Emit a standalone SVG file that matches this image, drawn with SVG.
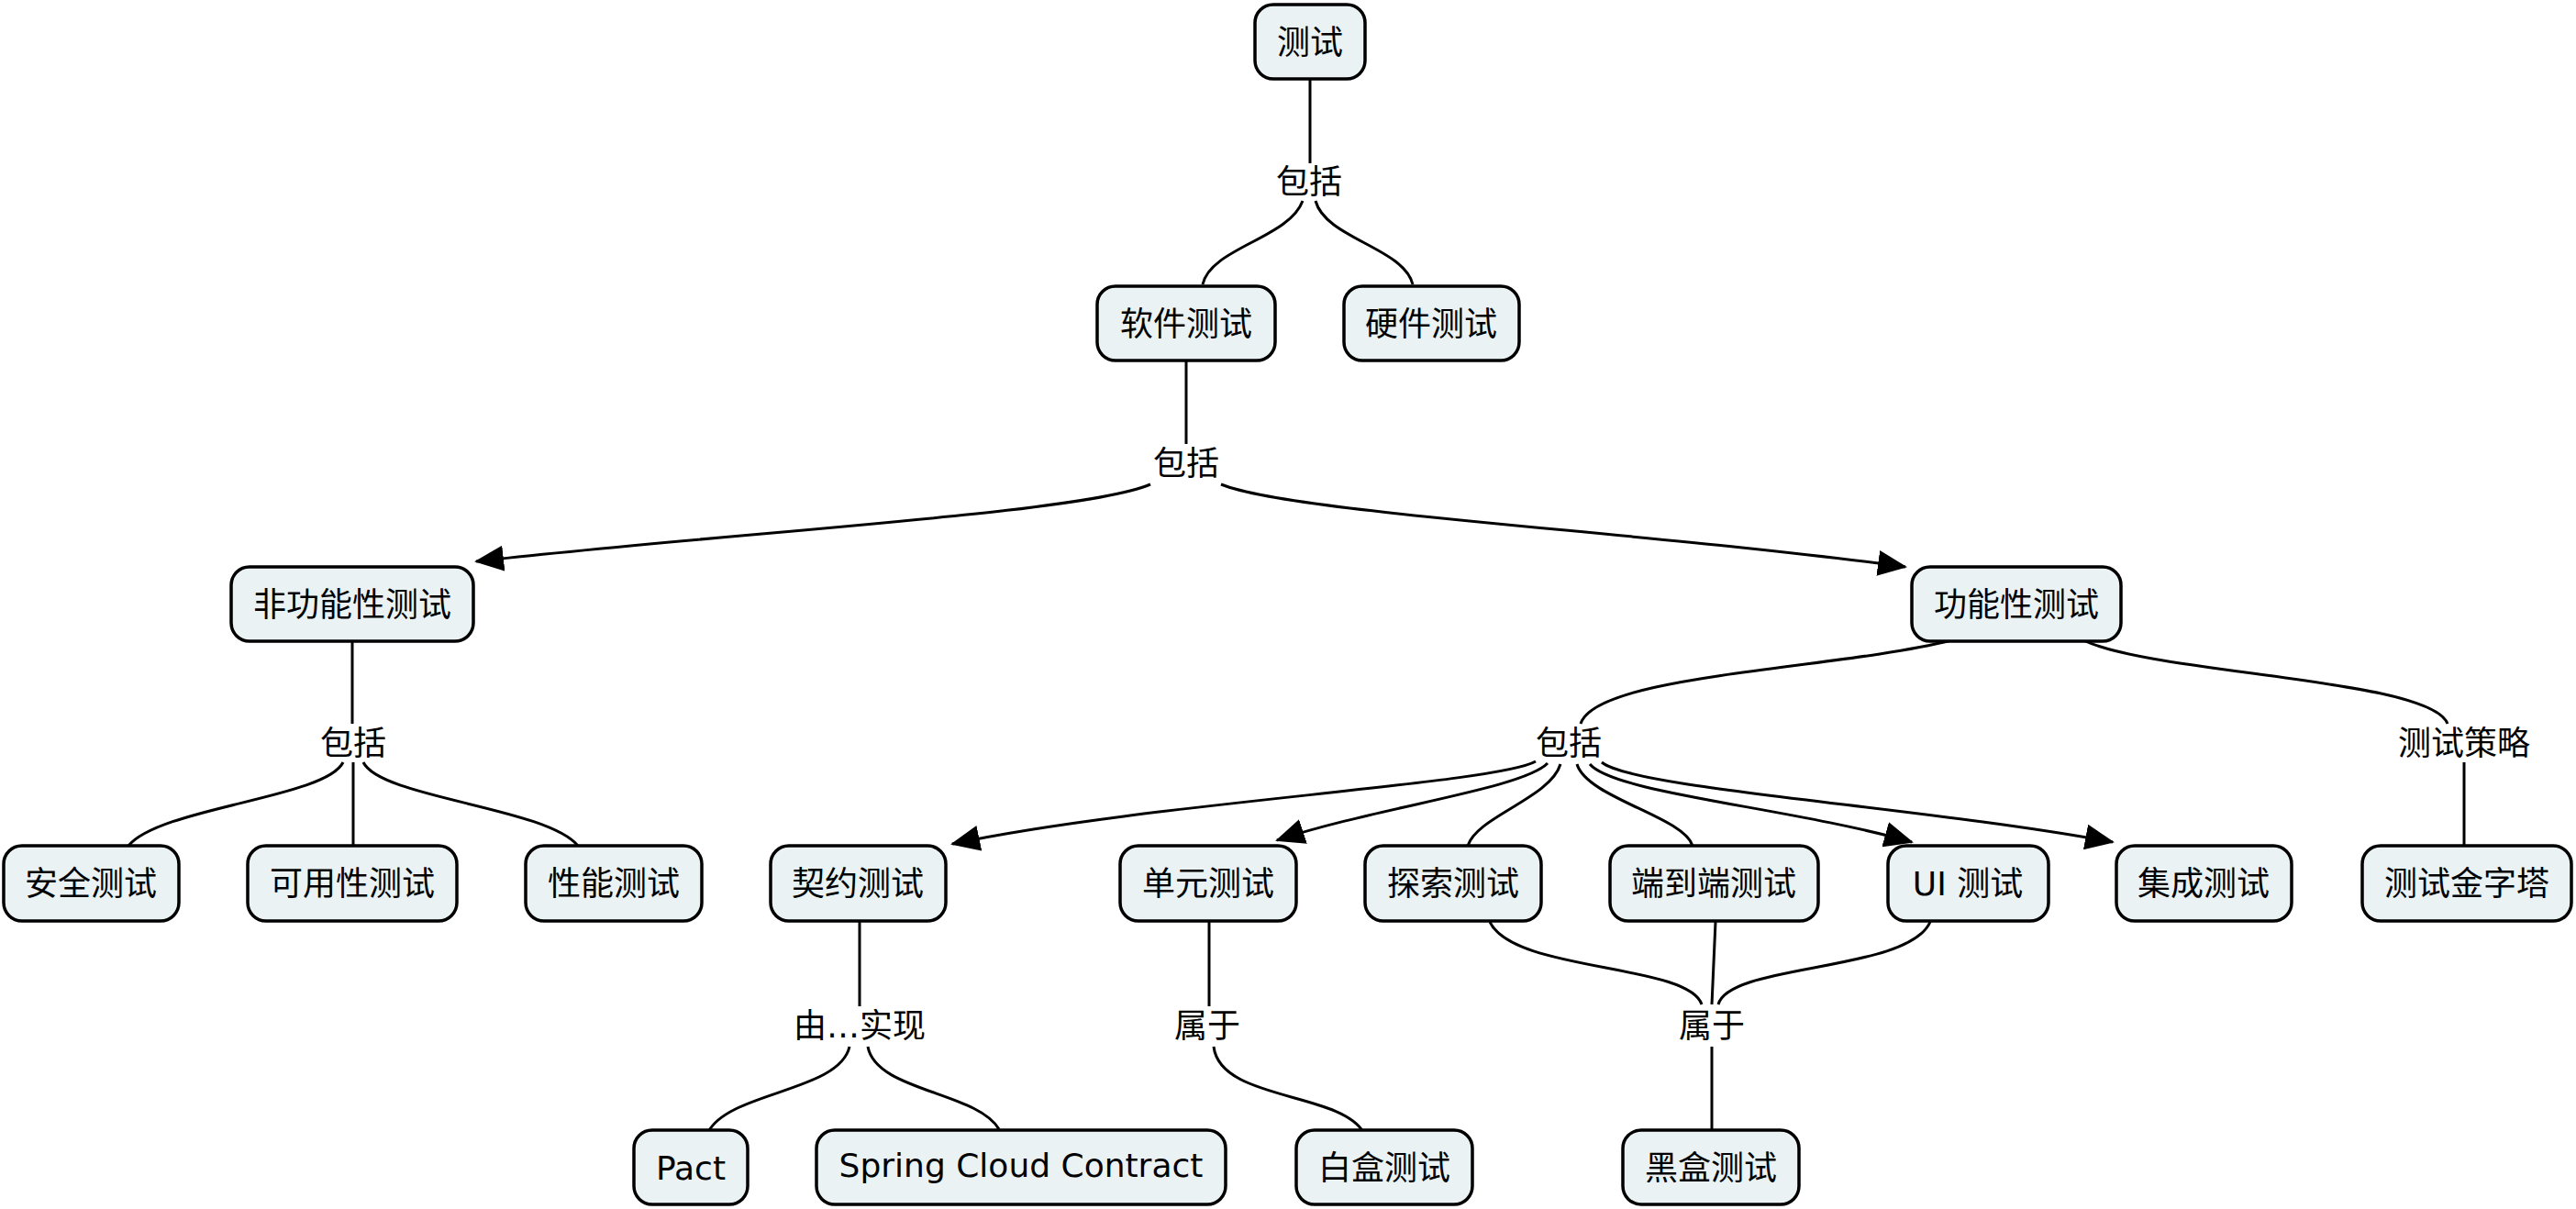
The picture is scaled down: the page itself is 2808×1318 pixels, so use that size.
<svg xmlns="http://www.w3.org/2000/svg" width="2808" height="1318" viewBox="0 0 2808 1318">
<defs>
<style>
.node rect{fill:#eaf2f4;stroke:#000;stroke-width:3.5}
text{font-family:"DejaVu Sans","Noto Sans CJK SC",sans-serif;font-size:36px;fill:#000;text-anchor:middle;dominant-baseline:central}
#connectors path{fill:none;stroke:#000;stroke-width:3}
</style>
<marker id="arr" markerUnits="userSpaceOnUse" markerWidth="32" markerHeight="28" viewBox="0 0 32 28" refX="30" refY="14" orient="auto">
<path d="M0,0 L32,14 L0,28 Z" fill="#000"/>
</marker>
</defs>
<rect width="2808" height="1318" fill="#fff"/>
<g id="connectors">
<path d="M1428,86 L1428,178"/>
<path d="M1420,219 C1405,260 1320,270 1311,310"/>
<path d="M1434,219 C1445,260 1530,270 1540,310"/>
<path d="M1293,392 L1293,484"/>
<path d="M1254,528 C1180,560 800,580 519,612" marker-end="url(#arr)"/>
<path d="M1331,528 C1410,560 1800,580 2077,618" marker-end="url(#arr)"/>
<path d="M384,698 L384,789"/>
<path d="M374,831 C355,870 175,880 140,922"/>
<path d="M385,831 L385,922"/>
<path d="M396,831 C415,870 595,880 630,922"/>
<path d="M2127,698 C2000,730 1740,735 1723,789"/>
<path d="M2271,698 C2350,735 2650,740 2668,789"/>
<path d="M2686,831 L2686,922"/>
<path d="M1674,830 C1630,855 1250,875 1038,920" marker-end="url(#arr)"/>
<path d="M1687,832 C1660,860 1500,880 1392,916" marker-end="url(#arr)"/>
<path d="M1701,833 C1690,870 1610,890 1600,922"/>
<path d="M1719,833 C1730,870 1835,890 1845,922"/>
<path d="M1733,833 C1760,865 1950,880 2084,918" marker-end="url(#arr)"/>
<path d="M1746,831 C1780,860 2100,880 2303,918" marker-end="url(#arr)"/>
<path d="M937,1005 L937,1097"/>
<path d="M926,1141 C915,1190 795,1190 772,1234"/>
<path d="M946,1141 C955,1190 1065,1190 1089,1231"/>
<path d="M1318,1005 L1318,1097"/>
<path d="M1323,1141 C1330,1200 1460,1190 1486,1234"/>
<path d="M1624,1005 C1650,1060 1840,1050 1855,1095"/>
<path d="M1870,1005 L1866,1095"/>
<path d="M2104,1005 C2080,1060 1885,1050 1873,1095"/>
<path d="M1866,1141 L1866,1232"/>
</g>
<g id="labels">
<text x="1427" y="198">包括</text>
<text x="1293" y="505">包括</text>
<text x="385" y="810">包括</text>
<text x="1710" y="810">包括</text>
<text x="2686" y="810">测试策略</text>
<text x="937" y="1118">由…实现</text>
<text x="1316" y="1118">属于</text>
<text x="1866" y="1118">属于</text>
</g>
<g id="n-ceshi" class="node"><rect x="1368" y="5" width="120" height="81" rx="20"/><text x="1428" y="46">测试</text></g>
<g id="n-ruanjian" class="node"><rect x="1196" y="312" width="194" height="81" rx="20"/><text x="1293" y="353">软件测试</text></g>
<g id="n-yingjian" class="node"><rect x="1465" y="312" width="191" height="81" rx="20"/><text x="1560" y="353">硬件测试</text></g>
<g id="n-feigongneng" class="node"><rect x="252" y="618" width="264" height="81" rx="20"/><text x="384" y="659">非功能性测试</text></g>
<g id="n-gongneng" class="node"><rect x="2084" y="618" width="228" height="81" rx="20"/><text x="2198" y="659">功能性测试</text></g>
<g id="n-anquan" class="node"><rect x="4" y="922" width="191" height="82" rx="20"/><text x="99" y="963">安全测试</text></g>
<g id="n-keyong" class="node"><rect x="270" y="922" width="228" height="82" rx="20"/><text x="384" y="963">可用性测试</text></g>
<g id="n-xingneng" class="node"><rect x="573" y="922" width="192" height="82" rx="20"/><text x="669" y="963">性能测试</text></g>
<g id="n-qiyue" class="node"><rect x="840" y="922" width="191" height="82" rx="20"/><text x="935" y="963">契约测试</text></g>
<g id="n-danyuan" class="node"><rect x="1221" y="922" width="192" height="82" rx="20"/><text x="1317" y="963">单元测试</text></g>
<g id="n-tansuo" class="node"><rect x="1488" y="922" width="192" height="82" rx="20"/><text x="1584" y="963">探索测试</text></g>
<g id="n-duandaoduan" class="node"><rect x="1755" y="922" width="227" height="82" rx="20"/><text x="1868" y="963">端到端测试</text></g>
<g id="n-ui" class="node"><rect x="2058" y="922" width="175" height="82" rx="20"/><text x="2145" y="963">UI 测试</text></g>
<g id="n-jicheng" class="node"><rect x="2307" y="922" width="191" height="82" rx="20"/><text x="2402" y="963">集成测试</text></g>
<g id="n-jinzita" class="node"><rect x="2575" y="922" width="228" height="82" rx="20"/><text x="2689" y="963">测试金字塔</text></g>
<g id="n-pact" class="node"><rect x="691" y="1232" width="124" height="81" rx="20"/><text x="753" y="1273">Pact</text></g>
<g id="n-scc" class="node"><rect x="890" y="1232" width="446" height="81" rx="20"/><text x="1113" y="1270">Spring Cloud Contract</text></g>
<g id="n-baihe" class="node"><rect x="1413" y="1232" width="192" height="81" rx="20"/><text x="1509" y="1273">白盒测试</text></g>
<g id="n-heihe" class="node"><rect x="1769" y="1232" width="192" height="81" rx="20"/><text x="1865" y="1273">黑盒测试</text></g>
</svg>
